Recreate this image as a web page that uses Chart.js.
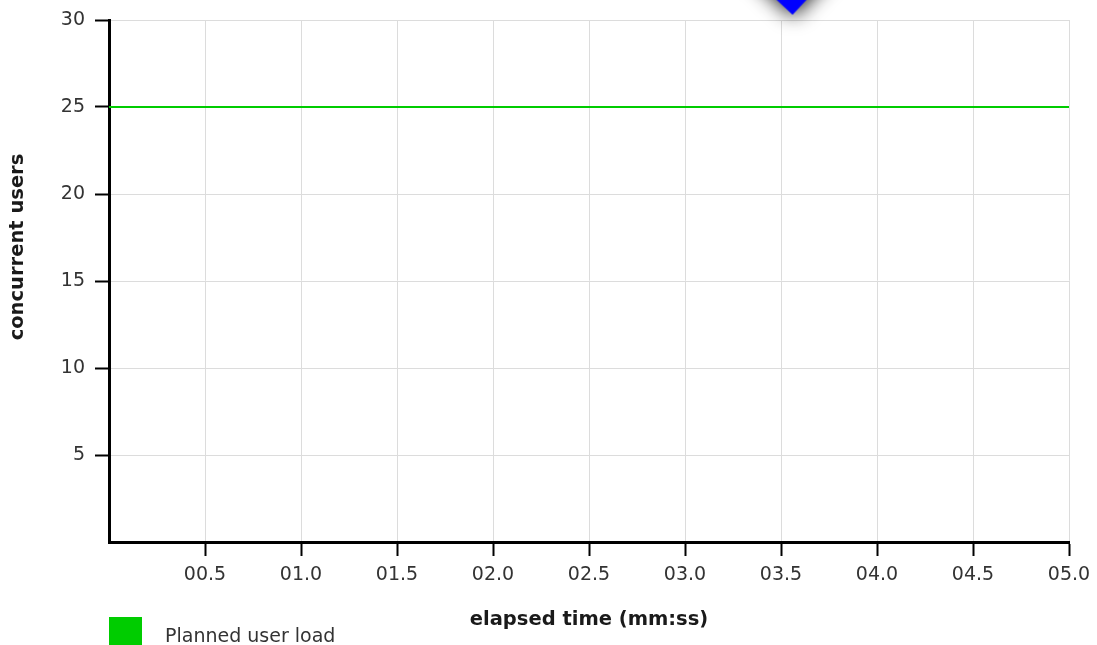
<!DOCTYPE html>
<html>
<head>
<meta charset="utf-8">
<script src="https://cdn.jsdelivr.net/npm/chart.js@4/dist/chart.umd.min.js"></script>
<style>
html,body{margin:0;padding:0;background:#fff;}
#wrap{position:relative;width:1097px;height:645px;overflow:hidden;background:#fff;}
#legend{position:absolute;left:109px;top:617px;height:28px;}
#legend .box{position:absolute;left:0;top:0;width:33px;height:28px;}
#legend .txt{position:absolute;left:56px;top:4px;white-space:nowrap;font:19px "DejaVu Sans";line-height:28px;color:#333;}
</style>
</head>
<body>
<div id="wrap">
  <canvas id="c" width="1097" height="645"></canvas>
  <div id="legend"></div>
</div>
<script>
// ---- data ----
const elapsedMinutes = [0, 5.0];
const plannedUsers = [25, 25];
const markerX = [3.56];
const markerY = [30.3];
const xTickLabels = ['', '00.5', '01.0', '01.5', '02.0', '02.5', '03.0', '03.5', '04.0', '04.5', '05.0'];
const yTickLabels = ['', '5', '10', '15', '20', '25', '30'];
const seriesLabel = 'Planned user load';
const xTitle = 'elapsed time (mm:ss)';
const yTitle = 'concurrent users';
const seriesColor = '#00cc00';

// ---- marker image (blue pointer with soft shadow) ----
function makeMarker() {
  const c = document.createElement('canvas');
  c.width = 120; c.height = 120;
  const g = c.getContext('2d');
  g.shadowColor = 'rgba(0,0,0,0.9)';
  g.shadowBlur = 20;
  g.shadowOffsetX = 1;
  g.shadowOffsetY = 2;
  g.fillStyle = '#0000ff';
  g.beginPath();
  g.moveTo(60, 60);
  g.lineTo(60 - 16 * 60 / 15, 0);
  g.lineTo(60 + 14 * 60 / 15, 0);
  g.closePath();
  g.fill();
  return c;
}
const markerImg = makeMarker();

const tickFont = { family: 'DejaVu Sans', size: 19 };
const titleFont = { family: 'DejaVu Sans', size: 19.5, weight: 'bold' };

const titleShift = {
  id: 'titleShift',
  beforeDraw(chart) {
    const s = chart.scales.y;
    if (s && !s._titlePatched) {
      const orig = s.drawTitle;
      s.drawTitle = function () {
        const b = this.bottom;
        this.bottom = b - 68;
        orig.call(this);
        this.bottom = b;
      };
      s._titlePatched = true;
    }
  }
};

const chart = new Chart(document.getElementById('c'), {
  type: 'line',
  data: {
    datasets: [
      {
        label: seriesLabel,
        data: elapsedMinutes.map((x, i) => ({ x: x, y: plannedUsers[i] })),
        borderColor: seriesColor,
        backgroundColor: seriesColor,
        borderWidth: 1.8,
        pointRadius: 0,
        fill: false,
        tension: 0
      },
      {
        label: 'marker',
        data: markerX.map((x, i) => ({ x: x, y: markerY[i] })),
        showLine: false,
        pointStyle: markerImg,
        pointRadius: 10,
        clip: false
      }
    ]
  },
  options: {
    responsive: false,
    animation: false,
    events: [],
    layout: { padding: { left: 0, top: 20, right: 28, bottom: 0 } },
    plugins: { legend: { display: false }, tooltip: { enabled: false } },
    scales: {
      x: {
        type: 'linear',
        min: 0,
        max: 5,
        ticks: {
          stepSize: 0.5,
          autoSkip: false,
          maxRotation: 0,
          padding: 8,
          color: '#333',
          font: tickFont,
          callback: (v, i) => xTickLabels[i]
        },
        grid: {
          color: '#dcdcdc',
          lineWidth: 1,
          tickLength: 14,
          tickWidth: 2,
          tickColor: (ctx) => (ctx.index === 0 ? 'rgba(0,0,0,0)' : '#000')
        },
        border: { color: '#000', width: 3 },
        title: {
          display: true,
          text: xTitle,
          color: '#1a1a1a',
          font: titleFont,
          padding: { top: 0, bottom: 13 }
        },
        afterFit: (s) => { s.height = 103; s.paddingLeft = 0; s.paddingRight = 0; }
      },
      y: {
        type: 'linear',
        min: 0,
        max: 30,
        ticks: {
          stepSize: 5,
          autoSkip: false,
          padding: 10,
          color: '#333',
          font: tickFont,
          callback: (v, i) => yTickLabels[i]
        },
        grid: {
          color: '#dcdcdc',
          lineWidth: 1,
          tickLength: 14,
          tickWidth: 2,
          tickColor: (ctx) => (ctx.index === 0 ? 'rgba(0,0,0,0)' : '#000')
        },
        border: { color: '#000', width: 3 },
        title: {
          display: true,
          text: yTitle,
          color: '#1a1a1a',
          font: titleFont,
          padding: { top: 6, bottom: 0 }
        },
        afterFit: (s) => { s.width = 109; s.paddingTop = 0; s.paddingBottom = 0; }
      }
    }
  },
  plugins: [titleShift]
});
chart.draw();

// ---- HTML legend built from the dataset ----
const lg = document.getElementById('legend');
const ds = chart.data.datasets[0];
const box = document.createElement('div');
box.className = 'box';
box.style.background = ds.backgroundColor;
const txt = document.createElement('div');
txt.className = 'txt';
txt.textContent = ds.label;
lg.appendChild(box);
lg.appendChild(txt);
</script>
</body>
</html>
